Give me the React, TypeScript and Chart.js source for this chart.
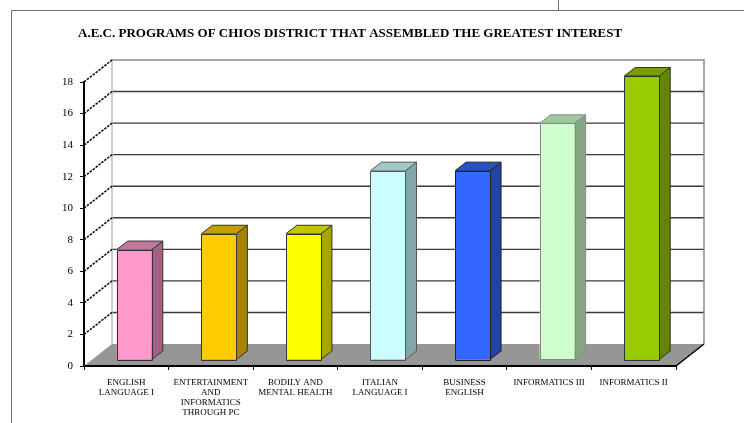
import React, { useEffect, useRef } from "react";
import { Chart, registerables } from "chart.js";

Chart.register(...registerables);

const TITLE = "A.E.C. PROGRAMS OF CHIOS DISTRICT THAT ASSEMBLED THE GREATEST INTEREST";

const categories: string[][] = [
  ["ENGLISH", "LANGUAGE I"],
  ["ENTERTAINMENT", "AND", "INFORMATICS", "THROUGH PC"],
  ["BODILY AND", "MENTAL HEALTH"],
  ["ITALIAN", "LANGUAGE I"],
  ["BUSINESS", "ENGLISH"],
  ["INFORMATICS III"],
  ["INFORMATICS II"],
];

const values: number[] = [7, 8, 8, 12, 12, 15, 18];

const yMin = 0;
const yMax = 18;
const yStep = 2;

const frontColors = ["#FF99CC", "#FFCC00", "#FFFF00", "#CCFFFF", "#3366FF", "#CCFFCC", "#99CC00"];
const sideColors = ["#A36283", "#A68400", "#A6A600", "#85A6A6", "#2142A6", "#85A685", "#638500"];
const topColors = ["#C4779D", "#C49D00", "#C4C400", "#A0C8C8", "#2851C8", "#A0C8A0", "#779D00"];
const edgeColors = ["#333", "#333", "#333", "#555", "#222", "#888", "#333"];

// 3D geometry (pixels)
const WALL_DX = 28;
const WALL_DY = -22;
const BAR_OFF_DX = 8;
const BAR_OFF_DY = -6;
const BAR_DEPTH_DX = 11;
const BAR_DEPTH_DY = -8.5;

const threeD = {
  id: "threeD",
  beforeDraw(chart: any) {
    const { ctx, chartArea, scales } = chart;
    const ys = scales.y;
    const L = chartArea.left;
    const R = chartArea.right;
    const B = ys.getPixelForValue(yMin);
    const T = ys.getPixelForValue(yMax);
    ctx.save();
    // outer frame
    ctx.strokeStyle = "#707070";
    ctx.lineWidth = 1;
    ctx.beginPath();
    ctx.moveTo(11.5, 423);
    ctx.lineTo(11.5, 10.5);
    ctx.lineTo(744, 10.5);
    ctx.moveTo(558.5, 0);
    ctx.lineTo(558.5, 10.5);
    ctx.stroke();

    // floor
    ctx.fillStyle = "#969696";
    ctx.beginPath();
    ctx.moveTo(L, B);
    ctx.lineTo(R, B);
    ctx.lineTo(R + WALL_DX, B + WALL_DY);
    ctx.lineTo(L + WALL_DX, B + WALL_DY);
    ctx.closePath();
    ctx.fill();

    // back wall gridlines
    ctx.strokeStyle = "#3a3a3a";
    ctx.lineWidth = 1.4;
    for (let v = yMin + yStep; v < yMax; v += yStep) {
      const y = ys.getPixelForValue(v) + WALL_DY;
      ctx.beginPath();
      ctx.moveTo(L + WALL_DX, y);
      ctx.lineTo(R + WALL_DX, y);
      ctx.stroke();
    }
    // back wall border
    ctx.strokeStyle = "#8a8a8a";
    ctx.lineWidth = 1.5;
    ctx.beginPath();
    ctx.moveTo(R + WALL_DX, B + WALL_DY);
    ctx.lineTo(R + WALL_DX, T + WALL_DY);
    ctx.lineTo(L + WALL_DX, T + WALL_DY);
    ctx.stroke();
    ctx.strokeStyle = "#bdbdbd";
    ctx.beginPath();
    ctx.moveTo(L + WALL_DX, T + WALL_DY);
    ctx.lineTo(L + WALL_DX, B + WALL_DY);
    ctx.stroke();

    // side wall diagonals
    ctx.strokeStyle = "#111";
    ctx.lineWidth = 1.6;
    ctx.setLineDash([2.5, 1.2]);
    for (let v = yMin + yStep; v <= yMax; v += yStep) {
      const y = ys.getPixelForValue(v);
      ctx.beginPath();
      ctx.moveTo(L, y);
      ctx.lineTo(L + WALL_DX, y + WALL_DY);
      ctx.stroke();
    }
    ctx.setLineDash([]);
    // floor right edge
    ctx.strokeStyle = "#000";
    ctx.lineWidth = 1.5;
    ctx.beginPath();
    ctx.moveTo(R, B);
    ctx.lineTo(R + WALL_DX, B + WALL_DY);
    ctx.stroke();
    ctx.restore();
  },
  afterDatasetsDraw(chart: any) {
    const { ctx } = chart;
    const meta = chart.getDatasetMeta(0);
    ctx.save();
    ctx.lineWidth = 1;
    ctx.lineJoin = "round";
    meta.data.forEach((el: any, i: number) => {
      const w = el.width;
      const x0 = el.x - w / 2 + BAR_OFF_DX;
      const x1 = el.x + w / 2 + BAR_OFF_DX;
      const yt = el.y + BAR_OFF_DY;
      const yb = el.base + BAR_OFF_DY;
      const dx = BAR_DEPTH_DX;
      const dy = BAR_DEPTH_DY;
      ctx.strokeStyle = edgeColors[i];
      // side
      ctx.fillStyle = sideColors[i];
      ctx.beginPath();
      ctx.moveTo(x1, yb);
      ctx.lineTo(x1 + dx, yb + dy);
      ctx.lineTo(x1 + dx, yt + dy);
      ctx.lineTo(x1, yt);
      ctx.closePath();
      ctx.fill();
      ctx.stroke();
      // top
      ctx.fillStyle = topColors[i];
      ctx.beginPath();
      ctx.moveTo(x0, yt);
      ctx.lineTo(x0 + dx, yt + dy);
      ctx.lineTo(x1 + dx, yt + dy);
      ctx.lineTo(x1, yt);
      ctx.closePath();
      ctx.fill();
      ctx.stroke();
      // front
      ctx.fillStyle = frontColors[i];
      ctx.fillRect(x0, yt, x1 - x0, yb - yt);
      ctx.strokeRect(Math.round(x0) + 0.5, Math.round(yt) + 0.5, Math.round(x1 - x0), Math.round(yb - yt));
    });
    ctx.restore();
  },
  afterDraw(chart: any) {
    const { ctx } = chart;
    ctx.save();
    ctx.fillStyle = "#000";
    ctx.font = 'bold 13px "Liberation Serif", "Times New Roman", serif';
    ctx.textAlign = "left";
    ctx.textBaseline = "alphabetic";
    ctx.fillText(TITLE, 78, 37, 556);
    ctx.restore();
  },
};

export default function App() {
  const ref = useRef<HTMLCanvasElement | null>(null);
  useEffect(() => {
    if (!ref.current) return;
    const chart = new Chart(ref.current, {
      type: "bar",
      data: {
        labels: categories,
        datasets: [
          {
            data: values,
            backgroundColor: "rgba(0,0,0,0)",
            borderWidth: 0,
            barPercentage: 0.414,
            categoryPercentage: 1,
          },
        ],
      },
      options: {
        responsive: false,
        animation: false,
        devicePixelRatio: 1,
        layout: { padding: { top: 82, right: 68, left: 0, bottom: 0 } },
        plugins: {
          legend: { display: false },
          title: { display: false },
          tooltip: { enabled: false },
        },
        scales: {
          x: {
            afterFit: (s: any) => {
              s.height = 57;
            },
            grid: {
              display: true,
              drawOnChartArea: false,
              drawTicks: true,
              tickLength: 4,
              color: "#000",
              lineWidth: 1,
              offset: true,
            },
            border: { display: true, color: "#000", width: 2 },
            ticks: {
              color: "#000",
              font: { family: '"Liberation Serif", "Times New Roman", serif', size: 9, lineHeight: 1.1 },
              maxRotation: 0,
              minRotation: 0,
              autoSkip: false,
              padding: 8,
            },
          },
          y: {
            min: yMin,
            max: yMax,
            afterFit: (s: any) => {
              s.width = 84;
            },
            grid: {
              display: true,
              drawOnChartArea: false,
              drawTicks: true,
              tickLength: 4,
              color: "#000",
              lineWidth: 1,
            },
            border: { display: true, color: "#000", width: 2 },
            ticks: {
              stepSize: yStep,
              color: "#000",
              font: { family: '"Liberation Serif", "Times New Roman", serif', size: 11 },
              padding: 7,
            },
          },
        },
      },
      plugins: [threeD],
    });
    return () => chart.destroy();
  }, []);
  return (
    <div style={{ position: "fixed", left: 0, top: 0, width: 744, height: 423, background: "#fff" }}>
      <canvas ref={ref} width={744} height={423} style={{ display: "block" }} />
    </div>
  );
}
